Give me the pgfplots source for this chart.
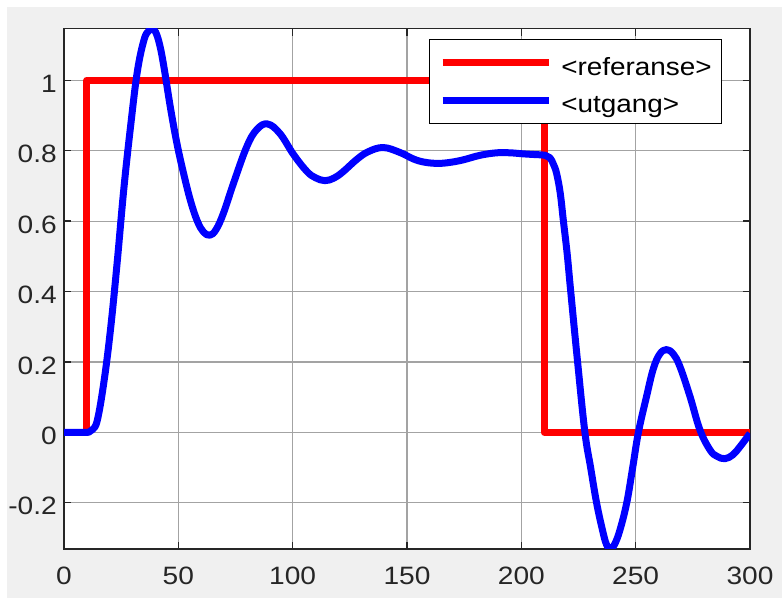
\documentclass[border=0pt]{standalone}
\usepackage{fontspec}
\setmainfont{Liberation Sans}[FakeStretch=1.12]
\usepackage{pgfplots}
\pgfplotsset{compat=1.18}
\definecolor{figbg}{HTML}{F0F0F0}
\definecolor{axdark}{HTML}{262626}
\definecolor{gridgray}{HTML}{A3A3A3}

% reference signal (step up at t=10, down at t=210)
\pgfplotstableread{
t y
0 0
10 0
10 1
210 1
210 0
300 0
}\referanse

% measured output
\pgfplotstableread{
t y
0 0
9 0
11 0.001
12.5 0.008
14.6 0.035
17.5 0.145
20.4 0.296
23.3 0.486
26.2 0.694
29.2 0.874
32.1 1.026
35 1.115
37 1.140
38.5 1.146
40 1.138
41.8 1.102
43.7 1.038
46.6 0.920
49.5 0.817
52.5 0.730
55.4 0.656
58.3 0.600
61 0.569
63.8 0.560
66.5 0.576
69.7 0.622
74.1 0.707
79.9 0.811
84.3 0.860
89 0.876
94.4 0.849
100.3 0.790
106.1 0.742
110 0.723
114.1 0.715
118 0.722
122 0.740
128 0.775
133 0.797
139.6 0.809
146.9 0.795
153 0.776
158 0.767
163.7 0.764
169 0.767
174.6 0.774
182 0.787
189.2 0.794
195 0.794
200.9 0.791
206 0.789
210.4 0.787
212.5 0.780
214 0.762
215.4 0.736
217 0.680
218.4 0.600
220 0.510
221.6 0.400
224.6 0.200
227.8 0.000
230.3 -0.100
232.9 -0.200
235.5 -0.278
237.2 -0.318
239 -0.331
240.8 -0.318
243.1 -0.278
246.1 -0.200
248.7 -0.100
251.2 0.000
254.8 0.103
257.7 0.180
260.5 0.222
263.5 0.235
266.5 0.222
269.4 0.186
273.8 0.101
278.1 0.007
282.5 -0.050
285.5 -0.068
289 -0.075
292.5 -0.064
295.6 -0.041
300 -0.003
}\utgang

\begin{document}
\begin{tikzpicture}
\fill[white] (0,0) rectangle (782bp,598bp);
\fill[figbg] (7bp,0) rectangle (782bp,591bp);
\begin{axis}[
  at={(64bp,49bp)}, anchor=south west,
  scale only axis, width=686bp, height=520.3bp,
  xmin=0, xmax=300, ymin=-0.3315, ymax=1.1466,
  axis background/.style={fill=white},
  xtick={0,50,...,300}, xticklabels={0,50,100,150,200,250,300},
  ytick={-0.2,0,0.2,0.4,0.6,0.8,1},
  yticklabels={-0.2,0,0.2,0.4,0.6,0.8,1},
  tick align=inside, major tick length=7bp,
  every tick/.style={axdark, line width=1.3bp},
  axis line style={axdark, line width=1.5bp},
  grid=major, major grid style={gridgray, line width=1.2bp},
  ticklabel style={font=\fontsize{25.2}{30}\selectfont, text=axdark},
  xticklabel style={inner sep=0pt, yshift=-17.7bp},
  yticklabel style={inner sep=0pt, xshift=-7bp, yshift=-3.5bp},
  legend style={at={(0.532,0.980)}, anchor=north west, draw=black,
    line width=1.3bp, fill=white, inner xsep=9.5bp, inner ysep=5.3bp,
    font=\fontsize{25}{30}\selectfont, cells={anchor=base west},
    row sep=1.3bp, column sep=8.5bp,
    nodes={inner sep=0pt, text height=30bp, text depth=6bp}},
  legend image code/.code={\draw[#1] (0bp,12.3bp) -- (106.7bp,12.3bp);},
]
\addplot[red, line width=7bp, line join=round] table[x=t, y=y] {\referanse};
\addlegendentry{<referanse>}
\addplot[blue, line width=7bp, line join=round, smooth, tension=0.65] table[x=t, y=y] {\utgang};
\addlegendentry{<utgang>}
\end{axis}
\pgfresetboundingbox
\useasboundingbox (0,0) rectangle (782bp,598bp);
\end{tikzpicture}
\end{document}
